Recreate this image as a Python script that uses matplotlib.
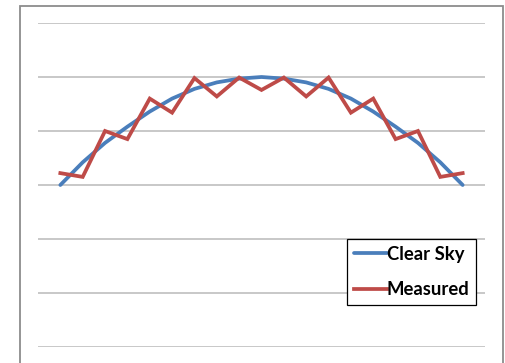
import matplotlib
matplotlib.use("Agg")
import matplotlib.pyplot as plt
from matplotlib.patches import Rectangle

# Hourly samples across the day
hours = list(range(19))
clear_sky = [3.0, 3.42, 3.78, 4.08, 4.36, 4.6, 4.78, 4.9, 4.97, 5.0,
             4.97, 4.9, 4.78, 4.6, 4.36, 4.08, 3.78, 3.42, 3.0]
measured = [3.22, 3.15, 4.0, 3.85, 4.6, 4.34, 4.98, 4.64, 4.99, 4.76,
            4.99, 4.64, 4.99, 4.34, 4.6, 3.85, 4.0, 3.15, 3.22]
series_names = ["Clear Sky", "Measured"]

W, H = 506, 363
fig = plt.figure(figsize=(W / 100, H / 100), dpi=100)
fig.patch.set_facecolor("white")

# chart frame (runs past the lower edge)
fig.add_artist(Rectangle((20 / W, -0.1), (503 - 20) / W, 1.1 - 6 / H,
                         transform=fig.transFigure, fill=False,
                         edgecolor="#8c8c8c", linewidth=1.3))

ax = fig.add_axes([38 / W, 1 - 347 / H, (485 - 38) / W, (347 - 23) / H])
ax.set_xlim(-1, 19)
ax.set_ylim(0, 6)
for s in ax.spines.values():
    s.set_visible(False)
ax.set_xticks([])
ax.set_yticks(range(7))
ax.tick_params(left=False, labelleft=False)
ax.yaxis.grid(True, color="#bfbfbf", linewidth=1.2)
ax.set_axisbelow(True)
ax.patch.set_alpha(0)

ax.plot(hours, clear_sky, color="#4a7ebb", linewidth=2.7,
        solid_capstyle="round", solid_joinstyle="round", label=series_names[0])
ax.plot(hours, measured, color="#be4b48", linewidth=2.7,
        solid_joinstyle="miter", label=series_names[1])

leg = ax.legend(loc="upper left", bbox_to_anchor=(347 / W, 1 - 239 / H),
                bbox_transform=fig.transFigure, borderaxespad=0,
                fancybox=False, framealpha=1, edgecolor="black",
                handlelength=1.8, handletextpad=0.0, borderpad=0.36,
                labelspacing=1.0,
                prop={"family": "Lato", "weight": "bold", "size": 13.3})
leg.get_frame().set_linewidth(0.9)
for line in leg.get_lines():
    line.set_linewidth(2.7)

fig.savefig("out.png", dpi=100, facecolor="white")
